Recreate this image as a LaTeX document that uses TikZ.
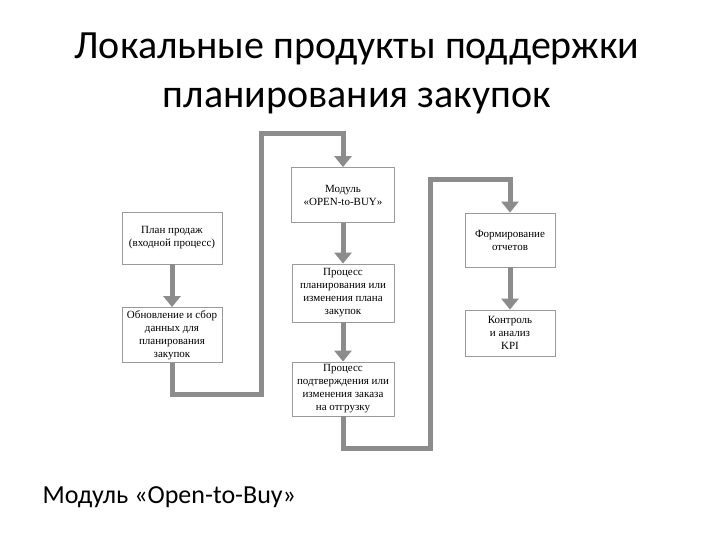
\documentclass[tikz,border=0pt]{standalone}
\usepackage{fontspec}
\setmainfont{Liberation Serif}
\newfontfamily\titlefont{Carlito}
\usetikzlibrary{arrows.meta}
\definecolor{flow}{HTML}{8C8C8C}
\definecolor{boxline}{HTML}{9A9A9A}
\tikzset{
  procbox/.style={draw=boxline, line width=0.8pt, fill=white, inner sep=0pt, align=center,
    font=\fontsize{11}{13}\selectfont},
  flowline/.style={draw=flow, line width=5pt, -{Triangle[width=17pt,length=11pt]}},
}
\begin{document}
\begin{tikzpicture}[x=1pt,y=-1pt]
\useasboundingbox (0,0) rectangle (720,540);
% title
\node[font=\titlefont\fontsize{40}{49}\selectfont, align=center] (title) at (357,73)
  {Локальные продукты поддержки\\планирования закупок};
\node[font=\titlefont\fontsize{26}{30}\selectfont, anchor=west] (caption) at (39,497)
  {Модуль «Open-to-Buy»};
% boxes
\node[procbox, minimum width=100pt, minimum height=52pt] (plan) at (172,238)
  {План продаж\\(входной процесс)};
\node[procbox, minimum width=100pt, minimum height=55pt] (upd) at (172,335)
  {Обновление и сбор\\данных для\\планирования\\закупок};
\node[procbox, minimum width=103pt, minimum height=55pt] (otb) at (343,195)
  {Модуль\\«OPEN-to-BUY»};
\node[procbox, minimum width=102pt, minimum height=58pt] (pp) at (343,293)
  {Процесс\\планирования или\\изменения плана\\закупок};
\node[procbox, minimum width=102pt, minimum height=54pt] (pc) at (343,389)
  {Процесс\\подтверждения или\\изменения заказа\\на отгрузку};
\node[procbox, minimum width=90pt, minimum height=54pt] (rep) at (510,240)
  {Формирование\\отчетов};
\node[procbox, minimum width=90pt, minimum height=46pt] (kpi) at (510,333)
  {Контроль\\и анализ\\KPI};
% corner coordinates
\coordinate (c1) at (172,394);
\coordinate (c2) at (261,394);
\coordinate (c3) at (261,134);
\coordinate (c4) at (343,134);
\coordinate (d1) at (343,448);
\coordinate (d2) at (430,448);
\coordinate (d3) at (430,180);
\coordinate (d4) at (510,180);
% connectors
\draw[flowline] (plan.south) -- (upd.north);
\draw[flowline] (upd.south) -- (c1) -- (c2) -- (c3) -- (c4) -- (otb.north);
\draw[flowline] (otb.south) -- (pp.north);
\draw[flowline] (pp.south) -- (pc.north);
\draw[flowline] (pc.south) -- (d1) -- (d2) -- (d3) -- (d4) -- (rep.north);
\draw[flowline] (rep.south) -- (kpi.north);
\end{tikzpicture}
\end{document}
